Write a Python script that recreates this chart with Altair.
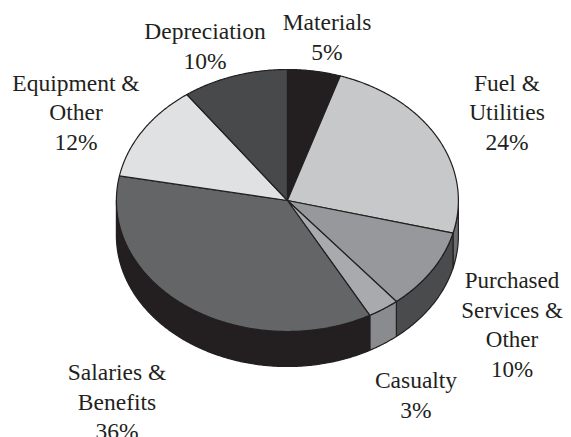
import math
import altair as alt

categories = ["Materials", "Fuel & Utilities", "Purchased Services & Other", "Casualty",
              "Salaries & Benefits", "Equipment & Other", "Depreciation"]
percents = [5, 24, 10, 3, 36, 12, 10]
top_colors = ["#231f20", "#c7c8ca", "#97989b", "#a9aaad", "#646567", "#e0e1e3", "#48494b"]
side_colors = ["#231f20", "#6d6e71", "#4a4b4d", "#8a8b8e", "#231f20", "#231f20", "#231f20"]
label_lines = [
    ["Materials", "5%"], ["Fuel &", "Utilities", "24%"],
    ["Purchased", "Services &", "Other", "10%"], ["Casualty", "3%"],
    ["Salaries &", "Benefits", "36%"], ["Equipment &", "Other", "12%"],
    ["Depreciation", "10%"],
]
label_centers = [327, 507, 512, 416, 117, 76, 205]
label_first_baselines = [30, 90.5, 288, 388, 380, 90.5, 39]
label_sizes = [23.5, 23.5, 23, 23.5, 23.5, 23.5, 23.5]

OFFSET = 8
CX, CY, RX, RY, DEPTH = 287.4 - OFFSET, 200.5 - OFFSET, 171, 131, 35
INK = "#231f20"


def pt(t, dy=0):
    a = math.radians(t)
    return [CX + RX * math.sin(a), CY - RY * math.cos(a) + dy]


def sweep(t1, t2, dy=0):
    n = max(2, int(abs(t2 - t1) * 2))
    return [pt(t1 + (t2 - t1) * i / n, dy) for i in range(n + 1)]


def feature(ring, fill):
    ring = ring + [ring[0]]
    return {"type": "Feature", "geometry": {"type": "Polygon", "coordinates": [ring]},
            "properties": {"fill": fill}}


walls, tops = [], []
start = 0.0
for pct, top, side in zip(percents, top_colors, side_colors):
    end = start + pct * 3.6
    tops.append(feature([[CX, CY]] + sweep(start, end), top))
    a, b = max(start, 90), min(end, 270)
    if b > a:
        walls.append(feature(sweep(a, b) + sweep(b, a, DEPTH), side))
    start = end

projection = alt.Projection(type="identity", scale=1, translate=[0, 0])


def shapes(features):
    return (
        alt.Chart(alt.InlineData(values=features))
        .mark_geoshape(stroke=INK, strokeWidth=1.2, strokeJoin="round")
        .encode(fill=alt.Fill("properties.fill:N", scale=None))
        .project(**projection.to_dict())
    )


layers = [shapes(walls), shapes(tops)]
LINE = 29.6
for lines, cx, base, size in zip(label_lines, label_centers, label_first_baselines, label_sizes):
    for i, line in enumerate(lines):
        layers.append(
            alt.Chart(alt.Data(values=[{"t": line}]))
            .mark_text(font="Liberation Serif", fontSize=size, color=INK, align="center",
                       baseline="alphabetic")
            .encode(text="t:N", x=alt.value(cx - OFFSET), y=alt.value(base + i * LINE - OFFSET))
        )

chart = (
    alt.layer(*layers)
    .properties(width=555, height=429, padding=0, autosize="none", background="white")
    .configure_view(stroke=None)
)
chart.save("out.html", embed_options={"renderer": "svg", "actions": False})
